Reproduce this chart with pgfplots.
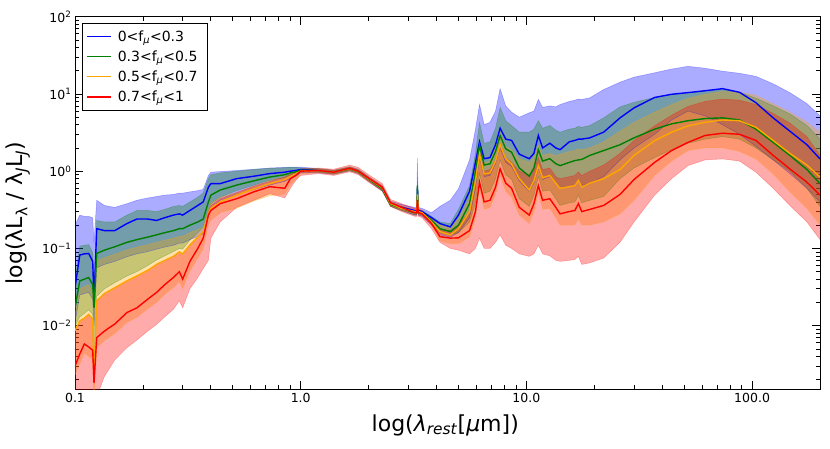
\documentclass[border=0pt]{standalone}
\usepackage{fontspec}
\setmainfont{DejaVu Sans}
\usepackage{pgfplots}
\pgfplotsset{compat=1.18}
\usepackage{pgfplotstable}
\usepgfplotslibrary{fillbetween}
\definecolor{mplblue}{rgb}{0,0,1}
\definecolor{mplgreen}{rgb}{0,0.5,0}
\definecolor{mplorange}{rgb}{1,0.647,0}
\definecolor{mplred}{rgb}{1,0,0}

\pgfplotstableread{
x lo med hi
0.100 0.011 0.031 0.20
0.105 0.025 0.082 0.27
0.110 0.026 0.085 0.26
0.115 0.027 0.086 0.26
0.1198 0.022 0.068 0.25
0.1214 0.010 0.021 0.12
0.1248 0.056 0.18 0.42
0.135 0.062 0.17 0.36
0.150 0.068 0.17 0.34
0.170 0.078 0.21 0.38
0.188 0.085 0.24 0.42
0.210 0.091 0.24 0.45
0.230 0.098 0.23 0.47
0.250 0.104 0.25 0.49
0.273 0.110 0.27 0.50
0.290 0.117 0.28 0.52
0.300 0.117 0.27 0.52
0.323 0.130 0.31 0.54
0.350 0.143 0.36 0.56
0.370 0.156 0.40 0.58
0.390 0.260 0.62 0.88
0.400 0.330 0.69 0.97
0.440 0.420 0.69 0.99
0.520 0.500 0.80 1.02
0.620 0.580 0.86 1.06
0.730 0.660 0.93 1.10
0.850 0.740 0.97 1.12
0.900 0.800 1.00 1.13
0.950 0.860 1.02 1.13
1.00 0.950 1.05 1.13
1.20 0.950 1.02 1.08
1.40 0.910 0.97 1.03
1.65 1.010 1.08 1.14
1.80 0.930 1.00 1.06
2.00 0.740 0.80 0.85
2.30 0.550 0.60 0.65
2.50 0.350 0.38 0.41
2.80 0.310 0.34 0.37
3.20 0.270 0.31 0.34
3.27 0.270 0.305 0.34
3.29 0.400 0.60 1.47
3.32 0.270 0.31 0.34
3.45 0.260 0.30 0.33
3.80 0.200 0.25 0.29
4.14 0.150 0.21 0.35
4.60 0.140 0.19 0.42
5.00 0.160 0.27 0.59
5.60 0.250 0.55 1.40
5.95 0.600 1.30 3.50
6.20 1.500 2.40 7.30
6.50 0.850 1.45 4.00
6.90 0.880 1.50 4.30
7.30 1.250 2.20 6.00
7.65 2.000 3.60 11.7
8.10 1.300 2.60 7.00
8.60 1.150 2.50 5.80
9.30 0.750 1.66 5.00
10.3 0.550 1.45 5.70
10.8 0.700 1.70 6.00
11.3 1.100 2.90 8.50
11.8 0.780 2.00 6.70
12.7 0.850 2.30 7.00
13.5 0.700 2.00 6.80
14.1 0.620 1.90 7.30
15.5 0.630 2.40 8.00
16.4 0.650 2.50 8.30
17.0 0.750 2.60 8.60
17.6 0.650 2.60 8.50
19.1 0.700 2.70 8.90
22.0 0.850 3.20 11.4
26.0 1.400 4.90 14.2
30.0 2.000 6.60 16.5
37.0 3.000 9.00 18.8
44.0 4.600 9.90 21.0
52.0 6.000 10.4 22.8
62.0 5.200 11.0 21.5
74.0 4.000 11.7 19.7
88.0 3.000 10.5 18.5
104 2.100 7.70 16.9
124 1.400 4.90 13.5
147 0.930 3.30 10.4
175 0.600 2.20 7.50
200 0.400 1.44 5.20
}\tblue

\pgfplotstableread{
x lo med hi
0.100 0.0099 0.017 0.040
0.105 0.013 0.038 0.107
0.110 0.0144 0.040 0.110
0.115 0.016 0.042 0.112
0.1198 0.014 0.034 0.088
0.1214 0.0023 0.017 0.027
0.1248 0.024 0.086 0.23
0.135 0.030 0.095 0.22
0.150 0.036 0.105 0.22
0.170 0.044 0.12 0.27
0.188 0.050 0.13 0.31
0.210 0.060 0.14 0.31
0.230 0.071 0.15 0.30
0.250 0.080 0.16 0.32
0.273 0.091 0.17 0.35
0.290 0.100 0.18 0.36
0.300 0.098 0.18 0.35
0.323 0.128 0.20 0.40
0.350 0.160 0.22 0.46
0.370 0.190 0.24 0.52
0.390 0.320 0.40 0.80
0.400 0.380 0.49 0.90
0.440 0.460 0.57 0.95
0.520 0.560 0.66 1.00
0.620 0.660 0.75 1.05
0.730 0.760 0.84 1.09
0.850 0.830 0.90 1.11
0.900 0.890 0.95 1.12
0.950 0.930 0.98 1.12
1.00 0.980 1.03 1.10
1.20 0.970 1.02 1.07
1.40 0.920 0.97 1.02
1.65 1.020 1.07 1.12
1.80 0.940 0.99 1.04
2.00 0.750 0.79 0.83
2.30 0.560 0.59 0.62
2.50 0.350 0.37 0.39
2.80 0.310 0.33 0.35
3.20 0.270 0.29 0.31
3.27 0.270 0.29 0.31
3.29 0.450 0.65 0.75
3.32 0.270 0.29 0.31
3.45 0.270 0.29 0.31
3.80 0.210 0.23 0.26
4.14 0.160 0.18 0.22
4.60 0.150 0.165 0.21
5.00 0.160 0.20 0.32
5.60 0.220 0.38 0.65
5.95 0.390 1.00 1.70
6.20 0.940 2.15 4.30
6.50 0.520 1.20 2.30
6.90 0.550 1.25 2.40
7.30 0.800 1.80 3.60
7.65 1.400 2.90 6.70
8.10 0.900 1.95 4.50
8.60 0.780 1.76 3.90
9.30 0.440 1.10 3.20
10.3 0.350 0.86 3.20
10.8 0.490 1.10 3.50
11.3 0.850 1.90 4.50
11.8 0.550 1.35 3.60
12.7 0.570 1.45 3.90
13.5 0.440 1.25 3.40
14.1 0.360 1.18 3.20
15.5 0.390 1.30 3.50
16.4 0.400 1.37 3.60
17.0 0.490 1.40 3.80
17.6 0.390 1.42 3.70
19.1 0.420 1.60 3.90
22.0 0.470 1.85 4.90
26.0 0.800 2.20 6.80
30.0 1.100 2.70 7.80
37.0 1.500 3.50 9.00
44.0 1.900 4.10 9.80
52.0 2.300 4.50 10.4
62.0 2.600 4.80 11.0
74.0 2.800 4.90 11.4
88.0 2.600 4.60 10.5
104 2.000 3.50 8.80
124 1.400 2.36 7.00
147 1.000 1.60 5.50
175 0.600 1.05 3.90
200 0.350 0.69 2.60
}\tgreen

\pgfplotstableread{
x lo med hi
0.100 0.0023 0.0086 0.014
0.105 0.0032 0.0115 0.030
0.110 0.0044 0.0125 0.032
0.115 0.0040 0.014 0.034
0.1198 0.0036 0.0122 0.027
0.1214 0.0010 0.0020 0.013
0.1248 0.0052 0.021 0.069
0.135 0.0064 0.026 0.076
0.150 0.0079 0.031 0.084
0.170 0.011 0.038 0.096
0.188 0.0128 0.044 0.104
0.210 0.0165 0.052 0.112
0.230 0.020 0.062 0.120
0.250 0.0255 0.070 0.128
0.273 0.031 0.079 0.136
0.290 0.037 0.090 0.144
0.300 0.030 0.085 0.144
0.323 0.051 0.111 0.160
0.350 0.075 0.140 0.176
0.370 0.100 0.165 0.190
0.390 0.200 0.28 0.32
0.400 0.230 0.33 0.39
0.440 0.290 0.40 0.46
0.520 0.330 0.49 0.53
0.620 0.410 0.59 0.64
0.730 0.480 0.69 0.76
0.850 0.500 0.78 0.85
0.900 0.660 0.85 0.91
0.950 0.780 0.92 0.96
1.00 0.920 1.00 1.05
1.20 0.960 1.02 1.08
1.40 0.910 0.97 1.03
1.65 1.010 1.08 1.15
1.80 0.940 1.00 1.06
2.00 0.750 0.80 0.85
2.30 0.570 0.61 0.65
2.50 0.355 0.38 0.41
2.80 0.310 0.33 0.355
3.20 0.280 0.30 0.32
3.27 0.280 0.30 0.32
3.29 0.420 0.50 0.58
3.32 0.280 0.30 0.32
3.45 0.270 0.29 0.31
3.80 0.200 0.22 0.24
4.14 0.125 0.165 0.20
4.60 0.115 0.15 0.19
5.00 0.115 0.18 0.24
5.60 0.140 0.30 0.45
5.95 0.250 0.75 1.10
6.20 0.600 1.66 2.15
6.50 0.320 0.92 1.30
6.90 0.340 0.95 1.35
7.30 0.500 1.35 1.95
7.65 0.880 2.20 3.20
8.10 0.550 1.45 2.10
8.60 0.460 1.24 1.90
9.30 0.270 0.80 1.45
10.3 0.210 0.57 1.30
10.8 0.300 0.75 1.50
11.3 0.530 1.18 2.15
11.8 0.320 0.82 1.60
12.7 0.330 0.88 1.70
13.5 0.250 0.70 1.60
14.1 0.200 0.60 1.66
15.5 0.200 0.63 1.80
16.4 0.200 0.65 1.85
17.0 0.240 0.76 1.95
17.6 0.200 0.62 1.90
19.1 0.200 0.70 2.00
22.0 0.220 0.80 2.40
26.0 0.280 1.05 3.30
30.0 0.420 1.60 4.30
37.0 0.880 2.48 5.80
44.0 1.350 3.20 7.30
52.0 1.850 3.86 8.80
62.0 2.000 4.30 9.90
74.0 2.000 4.60 10.8
88.0 1.800 4.50 10.5
104 1.440 3.70 9.60
124 0.920 2.50 7.50
147 0.540 1.70 5.80
175 0.330 1.20 4.30
200 0.200 0.84 3.20
}\torange

\pgfplotstableread{
x lo med hi
0.100 0.0010 0.0030 0.0086
0.105 0.0010 0.0043 0.0115
0.110 0.0010 0.0058 0.0125
0.115 0.0010 0.0053 0.014
0.1198 0.0010 0.0048 0.0122
0.1214 0.0008 0.0018 0.0025
0.1248 0.0012 0.0070 0.021
0.135 0.0022 0.0085 0.026
0.150 0.0036 0.0105 0.031
0.170 0.0052 0.0148 0.038
0.188 0.0065 0.017 0.044
0.210 0.0085 0.022 0.052
0.230 0.0104 0.027 0.062
0.250 0.013 0.034 0.070
0.273 0.0163 0.042 0.079
0.290 0.021 0.050 0.090
0.300 0.017 0.040 0.085
0.323 0.030 0.068 0.111
0.350 0.042 0.100 0.140
0.370 0.055 0.136 0.165
0.390 0.070 0.27 0.30
0.400 0.136 0.31 0.36
0.440 0.220 0.38 0.44
0.520 0.340 0.44 0.53
0.620 0.420 0.54 0.64
0.730 0.510 0.63 0.74
0.850 0.450 0.60 0.84
0.900 0.600 0.80 0.92
0.950 0.760 0.88 0.98
1.00 0.880 1.00 1.07
1.20 0.930 1.02 1.10
1.40 0.880 0.97 1.06
1.65 0.980 1.09 1.20
1.80 0.900 1.00 1.12
2.00 0.720 0.81 0.90
2.30 0.550 0.62 0.69
2.50 0.350 0.39 0.43
2.80 0.300 0.34 0.38
3.20 0.260 0.29 0.33
3.27 0.260 0.29 0.33
3.29 0.360 0.42 0.50
3.32 0.260 0.29 0.33
3.45 0.250 0.28 0.31
3.80 0.180 0.21 0.24
4.14 0.120 0.142 0.18
4.60 0.100 0.136 0.17
5.00 0.095 0.137 0.20
5.60 0.085 0.17 0.30
5.95 0.100 0.30 0.80
6.20 0.136 0.72 1.80
6.50 0.100 0.40 1.00
6.90 0.100 0.42 1.05
7.30 0.120 0.62 1.40
7.65 0.150 1.07 2.30
8.10 0.110 0.70 1.50
8.60 0.100 0.60 1.30
9.30 0.085 0.34 1.00
10.3 0.079 0.27 0.90
10.8 0.085 0.38 1.05
11.3 0.110 0.65 1.50
11.8 0.085 0.42 1.05
12.7 0.080 0.44 1.10
13.5 0.070 0.34 0.85
14.1 0.068 0.28 0.80
15.5 0.070 0.30 0.85
16.4 0.072 0.31 0.88
17.0 0.079 0.38 0.98
17.6 0.062 0.30 0.88
19.1 0.065 0.32 1.00
22.0 0.075 0.36 1.20
26.0 0.120 0.50 1.70
30.0 0.220 0.78 2.50
37.0 0.490 1.30 3.86
44.0 0.800 1.85 5.30
52.0 1.180 2.36 6.90
62.0 1.400 2.90 8.00
74.0 1.440 3.10 8.60
88.0 1.350 3.00 8.30
104 0.970 2.50 7.30
124 0.600 1.60 5.60
147 0.360 1.07 4.20
175 0.220 0.72 2.80
200 0.130 0.49 1.60
}\tred

\begin{document}
\begin{tikzpicture}
\begin{axis}[
  at={(75pt,59.7pt)}, anchor=south west,
  scale only axis, width=745pt, height=372.6pt,
  xmode=log, ymode=log,
  xmin=0.1, xmax=200, ymin=1.5e-3, ymax=100,
  xtick={0.1,1,10,100}, xticklabels={0.1,1.0,10.0,100.0},
  minor xtick={0.2,0.3,0.4,0.5,0.6,0.7,0.8,0.9,2,3,4,5,6,7,8,9,20,30,40,50,60,70,80,90},
  ytick={0.01,0.1,1,10,100},
  yticklabels={10\textsuperscript{−2},10\textsuperscript{−1},10\textsuperscript{0},10\textsuperscript{1},10\textsuperscript{2}},
  minor ytick={0.002,0.003,0.004,0.005,0.006,0.007,0.008,0.009,0.02,0.03,0.04,0.05,0.06,0.07,0.08,0.09,0.2,0.3,0.4,0.5,0.6,0.7,0.8,0.9,2,3,4,5,6,7,8,9,20,30,40,50,60,70,80,90},
  tick align=inside,
  major tick length=8pt, minor tick length=4pt,
  every tick/.style={black, line width=0.8pt},
  axis line style={line width=1pt},
  tick label style={font=\fontsize{12.5}{14}\selectfont},
  xlabel={log(\textit{λ}\textsubscript{\textit{rest}}[\textit{μ}m])},
  ylabel={log(λL\textsubscript{λ} / λ\textsubscript{\textit{J}}L\textsubscript{\textit{J}})},
  xlabel style={at={(axis description cs:0.497,-0.096)}, anchor=center, font=\fontsize{22}{26}\selectfont},
  ylabel style={at={(axis description cs:-0.0765,0.473)}, rotate=0, anchor=center, font=\fontsize{22}{26}\selectfont},
  legend style={at={(0.0094,0.983)}, anchor=north west, draw=black, line width=0.8pt,
    font=\fontsize{14}{16}\selectfont, row sep=4pt, inner xsep=4pt, inner ysep=5pt,
    nodes={inner xsep=6pt}},
  legend cell align=left,
  legend image code/.code={\draw[#1, line width=1pt] (0pt,0pt) -- (20pt,0pt); \path (0pt,0pt) -- (24pt,0pt);},
]
% bands
\addplot[name path=bl, mplblue, draw opacity=0.3, line width=0.5pt, forget plot] table[x=x,y=lo]{\tblue};
\addplot[name path=bh, mplblue, draw opacity=0.3, line width=0.5pt, forget plot] table[x=x,y=hi]{\tblue};
\addplot[fill=mplblue, fill opacity=0.33, draw=none, forget plot] fill between[of=bl and bh];

\addplot[name path=gl, mplgreen, draw opacity=0.3, line width=0.5pt, forget plot] table[x=x,y=lo]{\tgreen};
\addplot[name path=gh, mplgreen, draw opacity=0.3, line width=0.5pt, forget plot] table[x=x,y=hi]{\tgreen};
\addplot[fill=mplgreen, fill opacity=0.33, draw=none, forget plot] fill between[of=gl and gh];

\addplot[name path=ol, mplorange, draw opacity=0.3, line width=0.5pt, forget plot] table[x=x,y=lo]{\torange};
\addplot[name path=oh, mplorange, draw opacity=0.3, line width=0.5pt, forget plot] table[x=x,y=hi]{\torange};
\addplot[fill=mplorange, fill opacity=0.33, draw=none, forget plot] fill between[of=ol and oh];

\addplot[name path=rl, mplred, draw opacity=0.3, line width=0.5pt, forget plot] table[x=x,y=lo]{\tred};
\addplot[name path=rh, mplred, draw opacity=0.3, line width=0.5pt, forget plot] table[x=x,y=hi]{\tred};
\addplot[fill=mplred, fill opacity=0.33, draw=none, forget plot] fill between[of=rl and rh];

% medians
\addplot[mplblue, line width=1.4pt] table[x=x,y=med]{\tblue};
\addlegendentry{0<f\textsubscript{\textit{μ}}<0.3}
\addplot[mplgreen, line width=1.4pt] table[x=x,y=med]{\tgreen};
\addlegendentry{0.3<f\textsubscript{\textit{μ}}<0.5}
\addplot[mplorange, line width=1.4pt] table[x=x,y=med]{\torange};
\addlegendentry{0.5<f\textsubscript{\textit{μ}}<0.7}
\addplot[mplred, line width=1.4pt] table[x=x,y=med]{\tred};
\addlegendentry{0.7<f\textsubscript{\textit{μ}}<1}
\end{axis}
\pgfresetboundingbox
\path[use as bounding box] (0,0) rectangle (830pt,449pt);
\end{tikzpicture}
\end{document}
